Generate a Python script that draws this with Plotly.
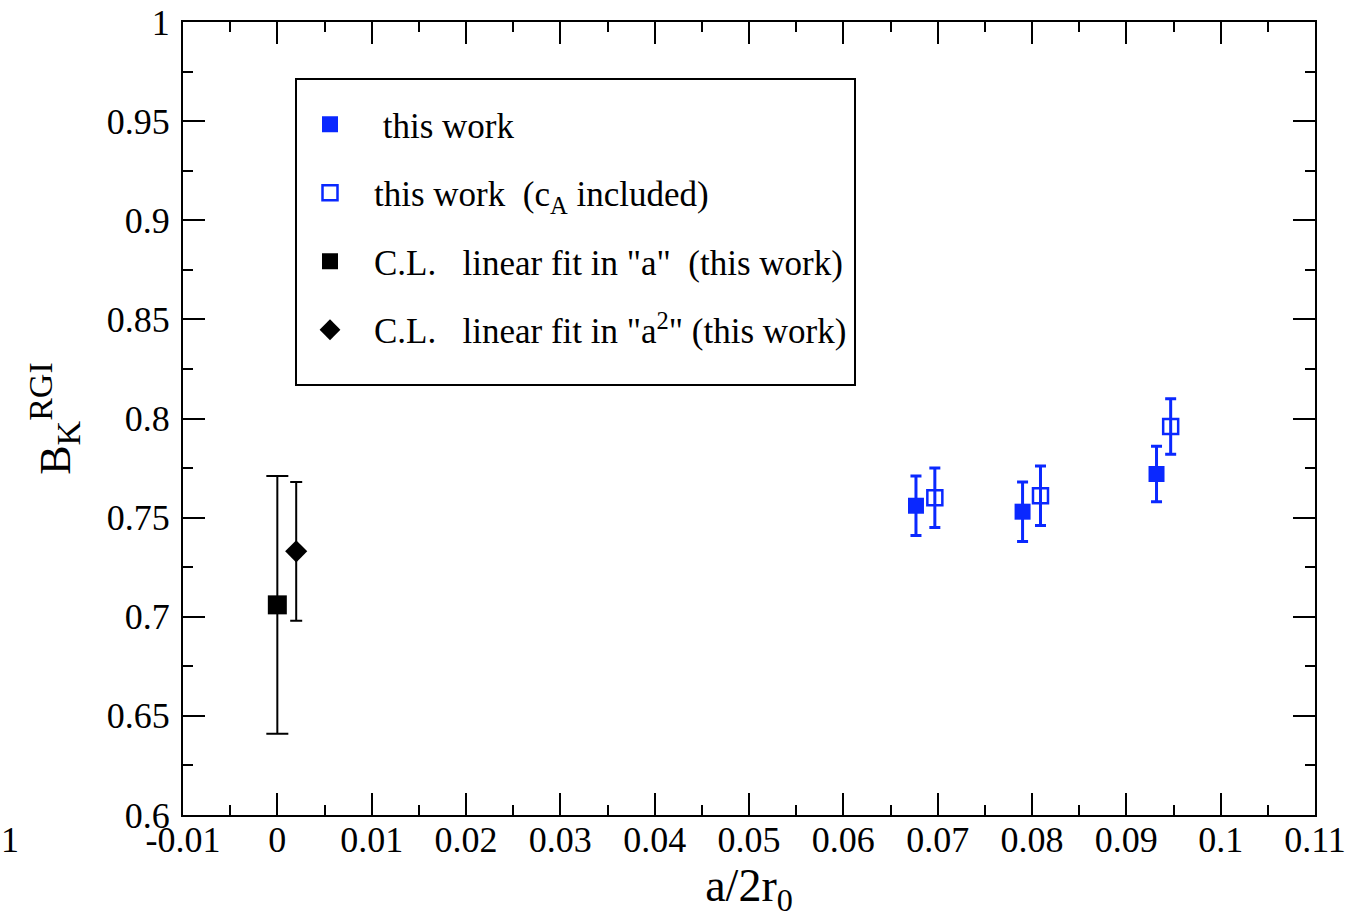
import plotly.graph_objects as go

# ---- data ----
x_this = [0.0677, 0.0790, 0.0932]
y_this = [0.756, 0.753, 0.772]
e_this = [0.015, 0.015, 0.014]

x_ca = [0.0697, 0.0809, 0.0947]
y_ca = [0.760, 0.761, 0.796]
e_ca = [0.015, 0.015, 0.014]

x_cl_a = [0.0]
y_cl_a = [0.706]
e_cl_a = [0.065]

x_cl_a2 = [0.002]
y_cl_a2 = [0.733]
e_cl_a2 = [0.035]

x_ticks = [-0.01, 0, 0.01, 0.02, 0.03, 0.04, 0.05, 0.06, 0.07, 0.08, 0.09, 0.1, 0.11]
x_labels = ["-0.01", "0", "0.01", "0.02", "0.03", "0.04", "0.05", "0.06", "0.07", "0.08", "0.09", "0.1", "0.11"]
y_ticks = [0.6, 0.65, 0.7, 0.75, 0.8, 0.85, 0.9, 0.95, 1.0]
y_labels = ["0.6", "0.65", "0.7", "0.75", "0.8", "0.85", "0.9", "0.95", "1"]

BLUE = "rgb(10,40,255)"
FONT = "Liberation Serif"

fig = go.Figure()

fig.add_trace(go.Scatter(
    x=x_this, y=y_this, mode="markers", name="\u00a0this work",
    marker=dict(symbol="square", size=16, color=BLUE),
    error_y=dict(type="data", array=e_this, color=BLUE, thickness=3, width=5.5),
    legendgroup="a"))
fig.add_trace(go.Scatter(
    x=x_ca, y=y_ca, mode="markers", name="this work  (c<sub>A</sub> included)",
    marker=dict(symbol="square-open", size=15, color=BLUE, line=dict(width=2.5, color=BLUE)),
    error_y=dict(type="data", array=e_ca, color=BLUE, thickness=3, width=5.5),
    legendgroup="b"))
fig.add_trace(go.Scatter(
    x=x_cl_a, y=y_cl_a, mode="markers", name="C.L.   linear fit in \"a\"  (this work)",
    marker=dict(symbol="square", size=19, color="black"),
    error_y=dict(type="data", array=e_cl_a, color="black", thickness=2, width=11),
    legendgroup="c"))
fig.add_trace(go.Scatter(
    x=x_cl_a2, y=y_cl_a2, mode="markers", name="C.L.   linear fit in \"a<sup>2</sup>\" (this work)",
    marker=dict(symbol="diamond", size=17, color="black"),
    error_y=dict(type="data", array=e_cl_a2, color="black", thickness=2, width=6),
    legendgroup="d"))

axis_common = dict(
    showline=True, linecolor="black", linewidth=2, mirror="ticks",
    ticks="inside", ticklen=22, tickwidth=2, tickcolor="black",
    showgrid=False, zeroline=False, automargin=False,
    tickfont=dict(family=FONT, size=36, color="black"),
    minor=dict(ticks="inside", ticklen=10, tickwidth=2, tickcolor="black", showgrid=False),
)

fig.update_xaxes(
    range=[-0.01, 0.11], tickvals=x_ticks, ticktext=x_labels,
    minor_dtick=0.005, ticklabelstandoff=-8,
    title=dict(text="a/2r<sub>0</sub>", font=dict(family=FONT, size=46, color="black"), standoff=9),
    **axis_common)
fig.update_yaxes(
    range=[0.6, 1.0], tickvals=y_ticks, ticktext=y_labels,
    minor_dtick=0.025, ticklabelstandoff=4,
    title=dict(text="B<sub><span style='font-size:34px'>K</span></sub><sup><span style='font-size:34px'>RGI</span></sup>",
               font=dict(family=FONT, size=44, color="black"), standoff=22),
    **axis_common)

# legend frame
fig.add_shape(type="rect", xref="paper", yref="paper",
              x0=(296 - 183) / 1132, x1=(855 - 183) / 1132,
              y0=(815 - 385) / 793, y1=(815 - 79) / 793,
              line=dict(color="black", width=2), fillcolor="rgba(0,0,0,0)")

fig.add_annotation(text="1", xref="paper", yref="paper",
                   x=(10 - 183) / 1132, y=(815 - 840) / 793,
                   xanchor="center", yanchor="middle",
                   showarrow=False, font=dict(family=FONT, size=36, color="black"))

fig.update_layout(
    width=1358, height=919,
    margin=dict(l=183, r=43, t=22, b=104),
    paper_bgcolor="white", plot_bgcolor="white",
    showlegend=True,
    legend=dict(x=(286 - 183) / 1132, y=(815 - 95) / 793, xanchor="left", yanchor="top",
                bgcolor="rgba(0,0,0,0)", borderwidth=0,
                font=dict(family=FONT, size=35, color="black"),
                tracegroupgap=20, itemwidth=78),
)

fig.write_html("out.html")
